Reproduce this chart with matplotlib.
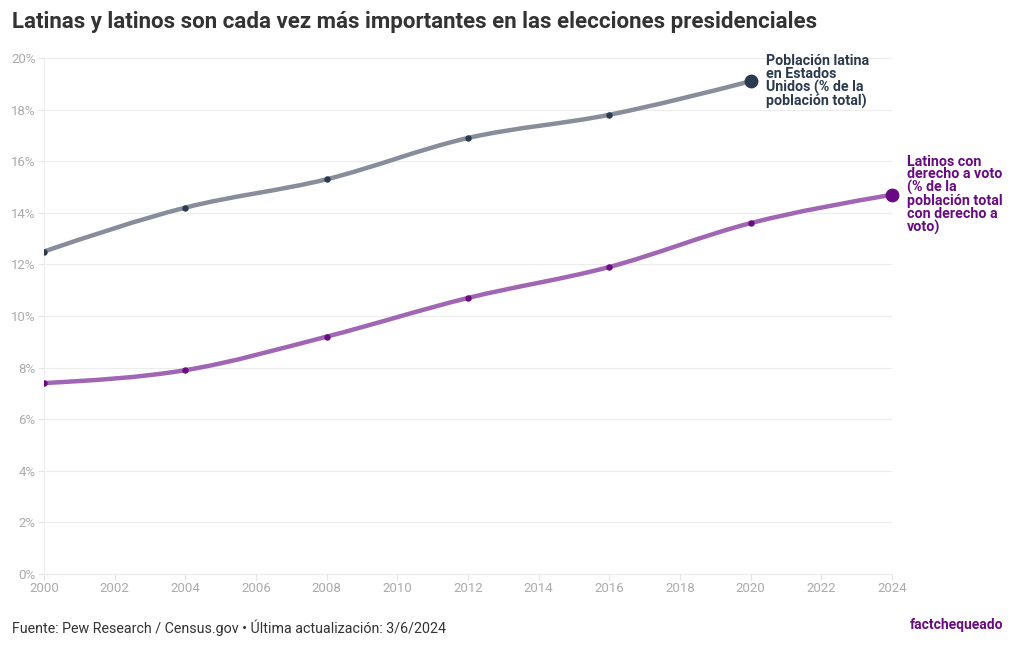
import numpy as np
import matplotlib
matplotlib.use("Agg")
from matplotlib import pyplot as plt
from matplotlib.path import Path
from matplotlib.patches import PathPatch

plt.rcParams['font.family'] = ['Roboto', 'DejaVu Sans']

# datos
years_pob = [2000, 2004, 2008, 2012, 2016, 2020]
pob_latina = [12.5, 14.2, 15.3, 16.9, 17.8, 19.1]
years_voto = [2000, 2004, 2008, 2012, 2016, 2020, 2024]
voto_latino = [7.4, 7.9, 9.2, 10.7, 11.9, 13.6, 14.7]
xticks = list(range(2000, 2025, 2))
yticks = list(range(0, 21, 2))

GRAY_LINE = '#878d9a'
GRAY_DOT = '#2b3a4e'
PURP_LINE = '#a066b4'
PURP_DOT = '#690a82'


def monotone_path(x, y):
    # curva monotona (tipo d3 curveMonotoneX) como beziers cubicos
    x = np.asarray(x, float)
    y = np.asarray(y, float)
    h = np.diff(x)
    s = np.diff(y) / h
    n = len(x)
    t = np.zeros(n)
    for i in range(1, n - 1):
        if s[i - 1] * s[i] <= 0:
            t[i] = 0
        else:
            p = (s[i - 1] * h[i] + s[i] * h[i - 1]) / (h[i - 1] + h[i])
            t[i] = (np.sign(s[i - 1]) + np.sign(s[i])) * min(abs(s[i - 1]), abs(s[i]), 0.5 * abs(p))
    t[0] = (3 * s[0] - t[1]) / 2 if n > 2 else s[0]
    t[-1] = (3 * s[-1] - t[-2]) / 2 if n > 2 else s[-1]
    verts = [(x[0], y[0])]
    codes = [Path.MOVETO]
    for i in range(n - 1):
        dx = h[i] / 3
        verts += [(x[i] + dx, y[i] + dx * t[i]),
                  (x[i + 1] - dx, y[i + 1] - dx * t[i + 1]),
                  (x[i + 1], y[i + 1])]
        codes += [Path.CURVE4] * 3
    return Path(verts, codes)


fig = plt.figure(figsize=(10.2, 6.5), dpi=100)
ax = fig.add_axes([44 / 1020, 76 / 650, 848 / 1020, 516 / 650])

ax.set_xlim(2000, 2024)
ax.set_ylim(0, 20)
ax.set_xticks(xticks)
ax.set_yticks(yticks)
ax.set_yticklabels([f'{v}%' for v in yticks])
ax.grid(axis='y', color='#ececec', linewidth=0.8)
ax.set_axisbelow(True)
for side in ['top', 'right']:
    ax.spines[side].set_visible(False)
ax.spines['left'].set_color('#ececec')
ax.spines['bottom'].set_color('#ececec')
ax.tick_params(axis='both', colors='#e4e4e4', labelcolor='#ababab', labelsize=9.5, length=4, width=0.8)
ax.tick_params(axis='x', pad=2)
ax.tick_params(axis='y', pad=2)

ax.add_patch(PathPatch(monotone_path(years_pob, pob_latina), fill=False,
                       edgecolor=GRAY_LINE, linewidth=3.2, capstyle='round', zorder=3))
ax.add_patch(PathPatch(monotone_path(years_voto, voto_latino), fill=False,
                       edgecolor=PURP_LINE, linewidth=3.2, capstyle='round', zorder=3))

ax.scatter(years_pob[:-1], pob_latina[:-1], s=13, color=GRAY_DOT, zorder=4)
ax.scatter(years_pob[-1:], pob_latina[-1:], s=80, color=GRAY_DOT, zorder=4)
ax.scatter(years_voto[:-1], voto_latino[:-1], s=13, color=PURP_DOT, zorder=4)
ax.scatter(years_voto[-1:], voto_latino[-1:], s=80, color=PURP_DOT, zorder=4,
           clip_on=False)

ax.annotate('Población latina\nen Estados\nUnidos (% de la\npoblación total)',
            xy=(years_pob[-1], pob_latina[-1]), xytext=(11, 0), textcoords='offset points',
            ha='left', va='center', fontsize=10.3, fontweight='bold', color=GRAY_DOT,
            linespacing=0.9)
ax.annotate('Latinos con\nderecho a voto\n(% de la\npoblación total\ncon derecho a\nvoto)',
            xy=(years_voto[-1], voto_latino[-1]), xytext=(11, 0), textcoords='offset points',
            ha='left', va='center', fontsize=10.3, fontweight='bold', color=PURP_DOT,
            linespacing=0.9, annotation_clip=False)

fig.text(12 / 1020, 1 - 22 / 650, 'Latinas y latinos son cada vez más importantes en las elecciones presidenciales',
         ha='left', va='center', fontsize=16, fontweight='bold', color='#333333')
fig.text(12 / 1020, 1 - 628 / 650, 'Fuente: Pew Research / Census.gov • Última actualización: 3/6/2024',
         ha='left', va='center', fontsize=10.3, color='#333333')
fig.text(1003 / 1020, 1 - 625 / 650, 'factchequeado', ha='right', va='center',
         fontsize=10, fontweight='bold', color=PURP_DOT)

fig.savefig('out.png', dpi=100)
